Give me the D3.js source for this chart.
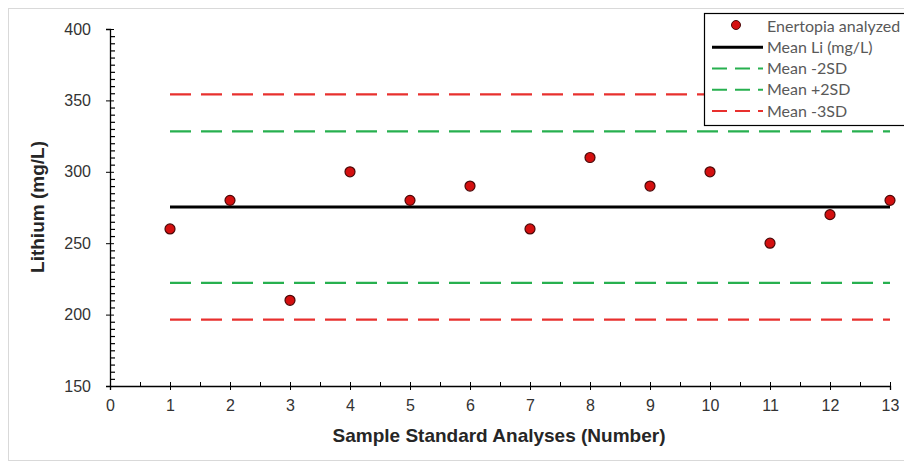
<!DOCTYPE html>
<html>
<head>
<meta charset="utf-8">
<script src="https://cdn.jsdelivr.net/npm/d3@7"></script>
<style>
  body { margin: 0; background: #fff; }
  svg { display: block; }
  .tick text { font-family: Arial, 'Liberation Sans', sans-serif; font-size: 16px; fill: #333; }
  .axis-title { font-family: Arial, 'Liberation Sans', sans-serif; font-size: 19px; font-weight: bold; fill: #262626; }
  .legend text { font-family: Lato, 'Open Sans', sans-serif; font-size: 16px; fill: #595959; }
</style>
</head>
<body>
<svg id="chart" width="904" height="466"></svg>
<script>
// sample numbers and measured lithium values
var samples = [1, 2, 3, 4, 5, 6, 7, 8, 9, 10, 11, 12, 13];
var lithium = [260, 280, 210, 300, 280, 290, 260, 310, 290, 300, 250, 270, 280];

// control limits
var meanLi = 275.4;
var minus2SD = 222.2;
var plus2SD = 328.3;
var minus3SD = 196.5;
var plus3SD = 354.2;

var xTicks = [0, 1, 2, 3, 4, 5, 6, 7, 8, 9, 10, 11, 12, 13];
var yTicks = [150, 200, 250, 300, 350, 400];

var legendLabels = ['Enertopia analyzed', 'Mean Li (mg/L)', 'Mean -2SD', 'Mean +2SD', 'Mean -3SD'];

var red = '#e8302e';
var green = '#27b04f';

var svg = d3.select('#chart');

// outer chart frame
svg.append('rect')
    .attr('x', 8.5).attr('y', 8.5)
    .attr('width', 904).attr('height', 452)
    .attr('fill', 'none')
    .attr('stroke', '#d9d9d9');

var plotLeft = 110, plotRight = 890, plotTop = 29, plotBottom = 386;

var x = d3.scaleLinear().domain([0, 13]).range([plotLeft, plotRight]);
var y = d3.scaleLinear().domain([150, 400]).range([plotBottom, plotTop]);

// minor ticks (inside the plot)
var xMinor = d3.range(0.5, 13, 1);
svg.append('g')
    .attr('transform', 'translate(0,' + plotBottom + ')')
    .call(d3.axisTop(x).tickValues(xMinor).tickSize(4).tickFormat(''))
    .call(function (g) { g.select('.domain').remove(); })
    .selectAll('line').attr('stroke', '#000');

var yMinor = d3.range(155, 400, 5).filter(function (v) { return v % 50 !== 0; });
svg.append('g')
    .attr('transform', 'translate(' + plotLeft + ',0)')
    .call(d3.axisRight(y).tickValues(yMinor).tickSize(5).tickFormat(''))
    .call(function (g) { g.select('.domain').remove(); })
    .selectAll('line').attr('stroke', '#000').attr('stroke-width', 1.2);

// major axes, ticks cross the line
var xAxis = svg.append('g')
    .attr('transform', 'translate(0,' + plotBottom + ')')
    .call(d3.axisBottom(x).tickValues(xTicks).tickSize(4).tickPadding(10).tickFormat(d3.format('d')));
xAxis.select('.domain').attr('stroke', '#000').attr('stroke-width', 1.3);
xAxis.selectAll('line').attr('stroke', '#000').attr('y1', -4);

var yAxis = svg.append('g')
    .attr('transform', 'translate(' + plotLeft + ',0)')
    .call(d3.axisLeft(y).tickValues(yTicks).tickSize(4).tickPadding(15));
yAxis.select('.domain').attr('stroke', '#000').attr('stroke-width', 1.3);
yAxis.selectAll('line').attr('stroke', '#000').attr('x1', 4);

// reference lines
var refLines = [
    { v: plus3SD, color: red, dash: '21,10', w: 2.2 },
    { v: plus2SD, color: green, dash: '21,10', w: 2.2 },
    { v: minus2SD, color: green, dash: '21,10', w: 2.2 },
    { v: minus3SD, color: red, dash: '21,10', w: 2.2 },
    { v: meanLi, color: '#000', dash: null, w: 3 }
];
svg.append('g').selectAll('line')
    .data(refLines)
    .enter().append('line')
    .attr('x1', x(samples[0]))
    .attr('x2', x(samples[samples.length - 1]))
    .attr('y1', function (d) { return y(d.v); })
    .attr('y2', function (d) { return y(d.v); })
    .attr('stroke', function (d) { return d.color; })
    .attr('stroke-width', function (d) { return d.w; })
    .attr('stroke-dasharray', function (d) { return d.dash; });

// points
svg.append('g').selectAll('circle')
    .data(samples)
    .enter().append('circle')
    .attr('cx', function (d) { return x(d); })
    .attr('cy', function (d, i) { return y(lithium[i]); })
    .attr('r', 5)
    .attr('fill', '#d40f0f')
    .attr('stroke', '#4a0808')
    .attr('stroke-width', 1.2);

// axis titles
svg.append('text')
    .attr('class', 'axis-title')
    .attr('x', 499)
    .attr('y', 442)
    .attr('text-anchor', 'middle')
    .text('Sample Standard Analyses (Number)');

svg.append('text')
    .attr('class', 'axis-title')
    .attr('transform', 'translate(44,207) rotate(-90)')
    .attr('text-anchor', 'middle')
    .text('Lithium (mg/L)');

// legend
var legend = svg.append('g').attr('class', 'legend');
legend.append('rect')
    .attr('x', 704.5).attr('y', 13.5)
    .attr('width', 220).attr('height', 112)
    .attr('fill', '#fff')
    .attr('stroke', '#000')
    .attr('stroke-width', 1.2);

var legendStyles = [
    { type: 'dot' },
    { type: 'line', color: '#000', dash: null, w: 3 },
    { type: 'line', color: green, dash: '15,8', w: 2.2 },
    { type: 'line', color: green, dash: '15,8', w: 2.2 },
    { type: 'line', color: red, dash: '15,8', w: 2.2 }
];
var rowY = d3.scaleLinear().domain([0, 4]).range([26, 111]);

var rows = legend.selectAll('g.row')
    .data(legendLabels)
    .enter().append('g')
    .attr('class', 'row')
    .attr('transform', function (d, i) { return 'translate(0,' + rowY(i) + ')'; });

rows.each(function (d, i) {
    var g = d3.select(this);
    var s = legendStyles[i];
    if (s.type === 'dot') {
        g.append('circle')
            .attr('cx', 736).attr('cy', -1).attr('r', 4.5)
            .attr('fill', '#d40f0f').attr('stroke', '#4a0808');
    } else {
        g.append('line')
            .attr('x1', 712).attr('x2', 763)
            .attr('y1', 0).attr('y2', 0)
            .attr('stroke', s.color)
            .attr('stroke-width', s.w)
            .attr('stroke-dasharray', s.dash);
    }
    g.append('text')
        .attr('x', 767)
        .attr('y', 0)
        .attr('dy', '0.35em')
        .text(d);
});
</script>
</body>
</html>
